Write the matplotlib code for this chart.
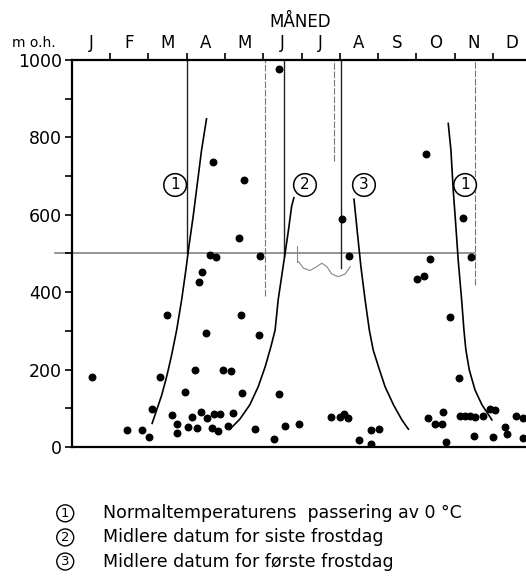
import matplotlib
matplotlib.use("Agg")
from matplotlib import pyplot as plt

# month labels (tick at month centres), heights in m o.h.
months = ["J", "F", "M", "A", "M", "J", "J", "A", "S", "O", "N", "D"]
yticks = [0, 200, 400, 600, 800, 1000]

# stations: time of year (months from 1 Jan) and height
dot_m = [0.53, 2.31, 3.51, 3.22, 2.97, 2.10, 1.44, 1.84, 2.03, 2.63, 2.74, 2.76,
         3.04, 3.14, 3.28, 3.38, 3.52, 3.66, 3.72, 3.87, 3.83, 4.89, 3.95, 4.15,
         4.45, 5.40, 4.21, 4.08, 4.79, 5.27, 5.57, 5.93, 6.77, 7.01, 7.11, 7.22,
         7.51, 7.81, 8.02, 7.81, 10.11, 9.88, 9.30, 9.48, 9.67, 9.69, 9.77, 10.14,
         10.27, 10.40, 10.53, 10.73, 10.93, 11.05, 10.49, 11.00, 11.31, 11.37, 11.61, 11.77,
         11.77, 3.69, 4.50, 4.36, 3.60, 3.78, 4.92, 3.39, 3.32, 2.50, 4.42, 9.25,
         7.06, 7.23, 9.35, 10.43, 10.22, 9.02, 9.21, 5.42]
dot_h = [182, 180, 295, 200, 142, 97, 44, 45, 26, 83, 59, 35,
         51, 78, 50, 90, 75, 50, 85, 84, 41, 289, 199, 196,
         139, 138, 89, 53, 47, 21, 53, 59, 77, 78, 85, 76,
         18, 43, 46, 9, 177, 336, 74, 60, 59, 90, 14, 81,
         81, 81, 78, 79, 98, 96, 28, 27, 52, 33, 79, 76,
         22, 736, 690, 541, 496, 490, 494, 452, 426, 342, 340, 757,
         589, 494, 487, 490, 592, 434, 443, 977]

# (1) normal temperature passing 0 C, spring
c1a_m = [2.10, 2.22, 2.35, 2.48, 2.61, 2.74, 2.87, 2.98, 3.06, 3.17, 3.28, 3.39, 3.52]
c1a_h = [61, 96, 134, 182, 238, 302, 380, 457, 518, 595, 681, 767, 848]
# (2) mean date of last frost day
c2_m = [4.13, 4.39, 4.65, 4.87, 5.05, 5.20, 5.31, 5.39, 5.48, 5.57, 5.66, 5.74, 5.80]
c2_h = [46, 72, 109, 156, 207, 259, 302, 380, 440, 500, 561, 621, 644]
# (3) mean date of first frost day
c3_m = [7.37, 7.46, 7.55, 7.66, 7.77, 7.87, 8.01, 8.18, 8.40, 8.62, 8.79]
c3_h = [640, 552, 466, 380, 302, 251, 207, 156, 109, 70, 46]
# (1) normal temperature passing 0 C, autumn
c1b_m = [9.83, 9.90, 9.96, 10.03, 10.09, 10.18, 10.24, 10.29, 10.38, 10.53, 10.71, 10.97]
c1b_h = [836, 767, 664, 569, 483, 380, 302, 251, 199, 147, 109, 70]

# vertical marker lines: month, bottom height
vlines_black = [(3.01, 500), (5.53, 493), (7.02, 462)]
vlines_grey = [(5.05, 391), (6.85, 740), (10.54, 419)]

# pencil squiggle below the 500 m line
wave_m = [5.92, 6.05, 6.22, 6.40, 6.53, 6.66, 6.79, 6.96, 7.14, 7.27]
wave_h = [479, 462, 456, 466, 475, 466, 447, 440, 447, 466]

labels = [("1", 2.70, 677), ("2", 6.09, 677), ("3", 7.63, 677), ("1", 10.27, 677)]
legend_items = [("1", "Normaltemperaturens  passering av 0 °C"),
                ("2", "Midlere datum for siste frostdag"),
                ("3", "Midlere datum for første frostdag")]

fig = plt.figure(figsize=(5.26, 5.88), dpi=100)
ax = fig.add_axes([0.1363, 0.2398, 0.8637, 0.6582])
ax.set_xlim(0, 11.86)
ax.set_ylim(0, 1000)

for s in ["left", "top", "bottom"]:
    ax.spines[s].set_linewidth(1.6)
ax.spines["right"].set_visible(False)

ax.xaxis.tick_top()
ax.set_xticks(range(1, 12))
ax.set_xticks([i + 0.5 for i in range(12)], minor=True)
ax.set_xticklabels([])
ax.set_xticklabels(months, minor=True, fontsize=12)
ax.tick_params(axis="x", which="major", direction="out", length=5, width=1.2)
ax.tick_params(axis="x", which="minor", length=0, pad=6)
ax.set_yticks(yticks)
ax.set_yticks(range(100, 1000, 200), minor=True)
ax.tick_params(axis="y", which="both", direction="out", length=5, width=1.2, labelsize=12.5, pad=2)

ax.plot([-0.44, 10.54], [500, 500], color="#777777", lw=1.1, clip_on=False, zorder=1)
ax.plot(wave_m, wave_h, color="#888888", lw=0.8)
ax.plot([5.88, 5.88], [477, 520], color="#888888", lw=0.8)

for m, lo in vlines_black:
    ax.plot([m, m], [lo, 1000], color="#222222", lw=1.0)
for m, lo in vlines_grey:
    ax.plot([m, m], [lo, 1000], color="#777777", lw=0.8, ls=(0, (6, 1.5)))

for xs, ys in [(c1a_m, c1a_h), (c2_m, c2_h), (c3_m, c3_h), (c1b_m, c1b_h)]:
    ax.plot(xs, ys, color="black", lw=1.2)

ax.scatter(dot_m, dot_h, s=22, color="black", zorder=3)

for txt, m, h in labels:
    ax.text(m, h, txt, ha="center", va="center", fontsize=11,
            bbox=dict(boxstyle="circle,pad=0.25", fc="white", ec="black", lw=1.1))

fig.text(0.57, 0.962, "MÅNED", ha="center", va="center", fontsize=12)
fig.text(0.022, 0.927, "m o.h.", ha="left", va="center", fontsize=10)

for i, (num, txt) in enumerate(legend_items):
    y = 0.127 - i * 0.041
    fig.text(0.124, y, num, ha="center", va="center", fontsize=9.5,
             bbox=dict(boxstyle="circle,pad=0.15", fc="white", ec="black", lw=1.0))
    fig.text(0.196, y, txt, ha="left", va="center", fontsize=12.5)

fig.savefig("out.png", dpi=100)
